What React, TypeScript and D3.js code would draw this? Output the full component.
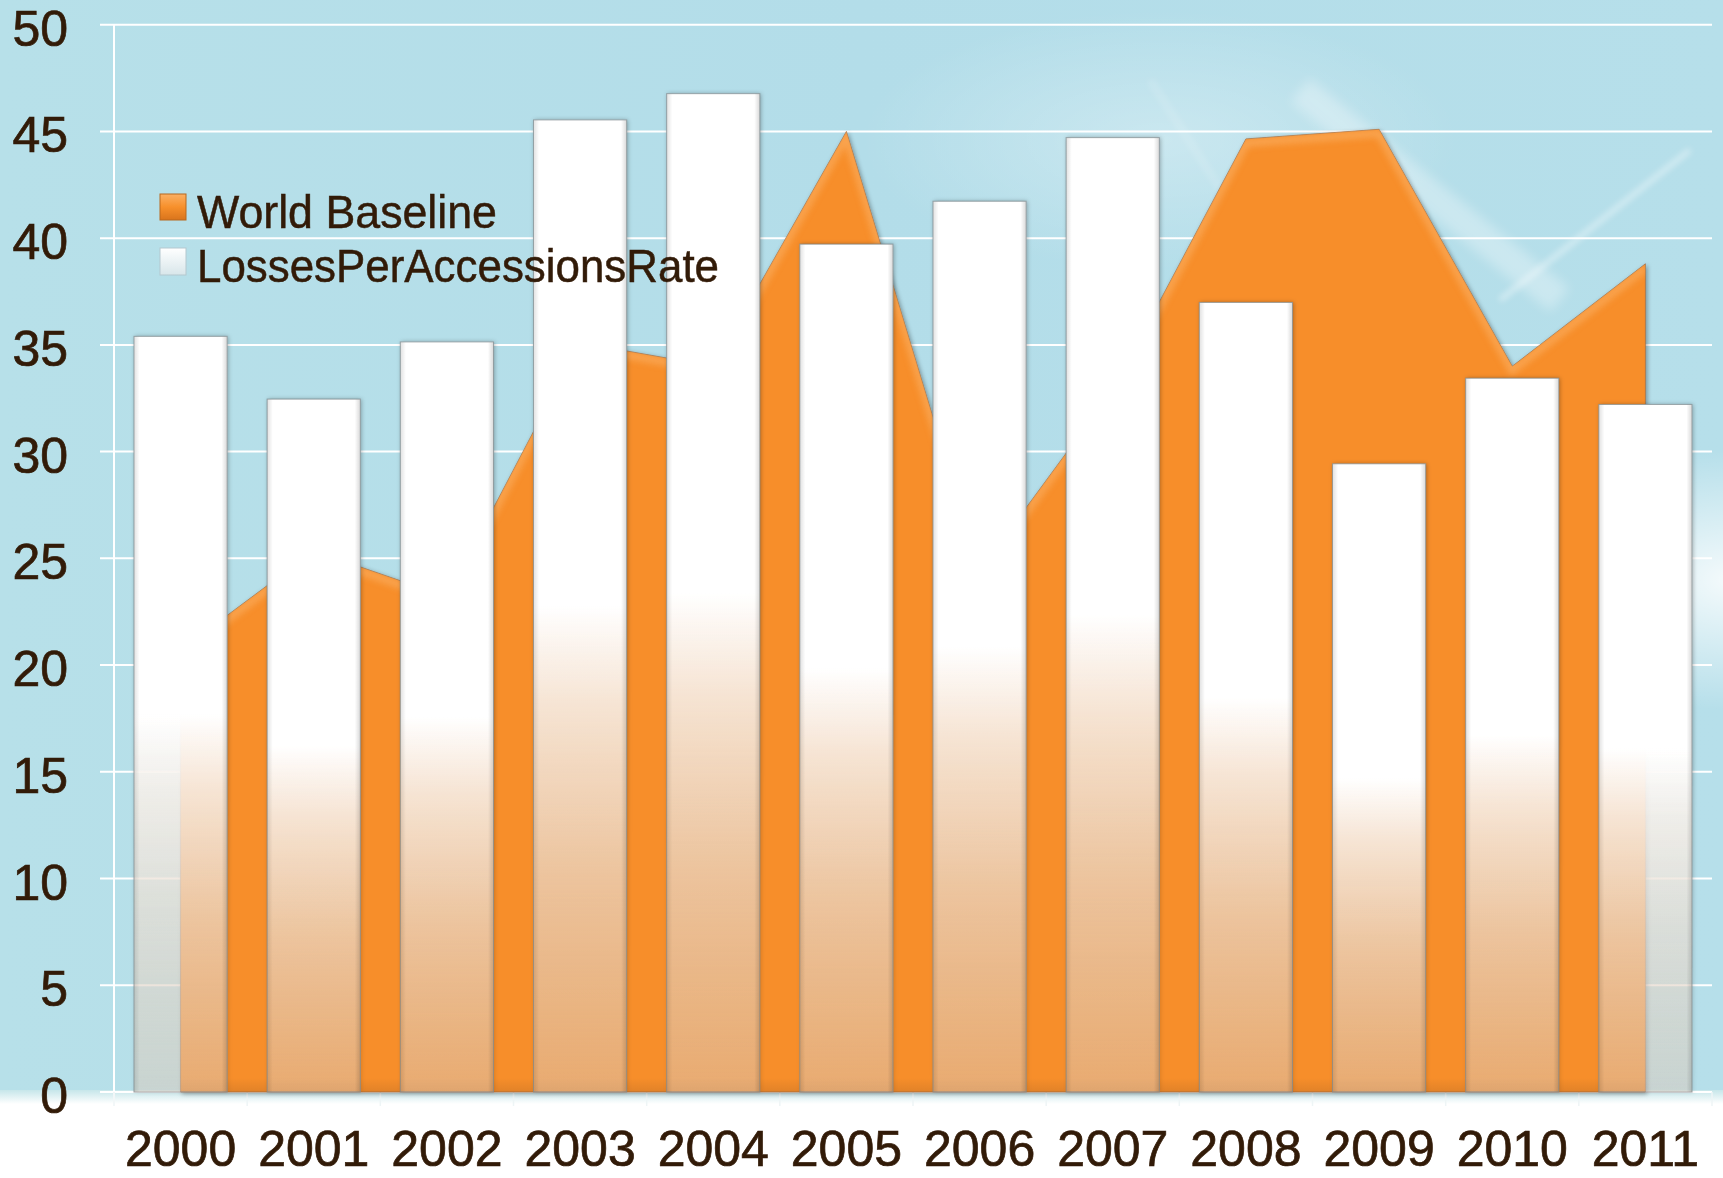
import React from 'react';
import * as d3 from 'd3';

const years = ['2000', '2001', '2002', '2003', '2004', '2005', '2006', '2007', '2008', '2009', '2010', '2011'];
const worldBaseline = [20.7, 25.35, 23.2, 35.1, 34.0, 45.0, 24.4, 32.9, 44.65, 45.1, 34.0, 38.8];
const lossesPerAccessionsRate = [35.4, 32.46, 35.14, 45.54, 46.77, 39.72, 41.73, 44.71, 36.99, 29.43, 33.44, 32.21];
const yTicks = [0, 5, 10, 15, 20, 25, 30, 35, 40, 45, 50];
const legendItems = ['World Baseline', 'LossesPerAccessionsRate'];

const W = 1723;
const H = 1178;
const plotLeft = 114;
const plotRight = 1712;
const plotTop = 24.7;
const plotBottom = 1092;
const textColor = '#321b08';
const font = '"Liberation Sans", Arial, sans-serif';

export default function App() {
  const x = d3.scaleBand<string>().domain(years).range([plotLeft, plotRight]).paddingInner(0.3).paddingOuter(0.15);
  const step = x.step();
  const center = (c: string) => (x(c) as number) + x.bandwidth() / 2;
  const y = d3.scaleLinear().domain([0, 50]).range([plotBottom, plotTop]);

  const area = d3
    .area<number>()
    .x((_, i) => center(years[i]))
    .y0(y(0))
    .y1((d) => y(d));
  const line = d3
    .line<number>()
    .x((_, i) => center(years[i]))
    .y((d) => y(d));

  const catEdges = years.map((_, i) => plotLeft + i * step).concat([plotRight]);

  return (
    <svg width={W} height={H} style={{ position: 'absolute', left: 0, top: 0 }} fontFamily={font}>
      <defs>
        <linearGradient id="bg" x1="0" y1="0" x2="1" y2="0">
          <stop offset="0" stopColor="#b7e0e9" />
          <stop offset="0.5" stopColor="#b3dde9" />
          <stop offset="1" stopColor="#b6dfea" />
        </linearGradient>
        <linearGradient id="bottomFade" x1="0" y1="0" x2="0" y2="1">
          <stop offset="0" stopColor="#c6e6ea" stopOpacity="1" />
          <stop offset="1" stopColor="#ffffff" stopOpacity="1" />
        </linearGradient>
        <radialGradient id="glowR" cx="0.5" cy="0.5" r="0.5">
          <stop offset="0" stopColor="#ffffff" stopOpacity="0.85" />
          <stop offset="1" stopColor="#ffffff" stopOpacity="0" />
        </radialGradient>
        <radialGradient id="glowT" cx="0.5" cy="0.5" r="0.5">
          <stop offset="0" stopColor="#ffffff" stopOpacity="0.3" />
          <stop offset="1" stopColor="#ffffff" stopOpacity="0" />
        </radialGradient>
        <linearGradient id="barGrad" x1="0" y1="0" x2="0" y2="1">
          <stop offset="0" stopColor="#ffffff" stopOpacity="1" />
          <stop offset="0.5" stopColor="#ffffff" stopOpacity="1" />
          <stop offset="0.6" stopColor="#fbf4ee" stopOpacity="0.85" />
          <stop offset="0.78" stopColor="#f3e6da" stopOpacity="0.62" />
          <stop offset="1" stopColor="#ead7c6" stopOpacity="0.42" />
        </linearGradient>
        <linearGradient id="barSide" x1="0" y1="0" x2="1" y2="0">
          <stop offset="0" stopColor="#000" stopOpacity="0.12" />
          <stop offset="0.06" stopColor="#000" stopOpacity="0" />
          <stop offset="0.94" stopColor="#000" stopOpacity="0" />
          <stop offset="1" stopColor="#000" stopOpacity="0.15" />
        </linearGradient>
        <linearGradient id="baseShade" x1="0" y1="0" x2="0" y2="1">
          <stop offset="0" stopColor="#7a4a20" stopOpacity="0" />
          <stop offset="1" stopColor="#7a4a20" stopOpacity="0.18" />
        </linearGradient>
        <linearGradient id="legOrange" x1="0" y1="0" x2="0" y2="1">
          <stop offset="0" stopColor="#fbb065" />
          <stop offset="0.5" stopColor="#f7902b" />
          <stop offset="1" stopColor="#d9741c" />
        </linearGradient>
        <linearGradient id="legWhite" x1="0" y1="0" x2="0" y2="1">
          <stop offset="0" stopColor="#ffffff" />
          <stop offset="1" stopColor="#d8e6ea" />
        </linearGradient>
        <filter id="shadow" x="-10%" y="-10%" width="120%" height="120%">
          <feDropShadow dx="1.5" dy="1.5" stdDeviation="2" floodColor="#000" floodOpacity="0.35" />
        </filter>
        <filter id="barShadow" x="-10%" y="-5%" width="120%" height="110%">
          <feDropShadow dx="1" dy="0" stdDeviation="2" floodColor="#000" floodOpacity="0.3" />
        </filter>
        <filter id="blur6">
          <feGaussianBlur stdDeviation="6" />
        </filter>
        <filter id="blur3">
          <feGaussianBlur stdDeviation="3" />
        </filter>
        <clipPath id="areaClip">
          <path d={area(worldBaseline) || ''} />
        </clipPath>
      </defs>

      {/* background */}
      <rect x={0} y={0} width={W} height={H} fill="#ffffff" />
      <rect x={0} y={0} width={W} height={1096} fill="url(#bg)" />
      <rect x={0} y={1090} width={W} height={14} fill="url(#bottomFade)" />
      <ellipse cx={1160} cy={140} rx={300} ry={130} fill="url(#glowT)" />
      <ellipse cx={1730} cy={580} rx={200} ry={130} fill="url(#glowR)" />
      <g filter="url(#blur3)" opacity={0.45}>
        <line x1={1500} y1={300} x2={1690} y2={150} stroke="#ffffff" strokeWidth={5} />
        <line x1={1150} y1={80} x2={1240} y2={220} stroke="#ffffff" strokeWidth={8} opacity={0.3} />
      </g>
      <g filter="url(#blur6)" opacity={0.3}>
        <line x1={1300} y1={90} x2={1560} y2={300} stroke="#ffffff" strokeWidth={30} />
      </g>

      {/* gridlines */}
      <g>
        {yTicks.map((t) => (
          <line key={t} x1={plotLeft - 14} x2={plotRight} y1={y(t)} y2={y(t)} stroke="#ffffff" strokeWidth={2} />
        ))}
        <line x1={plotLeft} x2={plotLeft} y1={plotTop} y2={plotBottom + 14} stroke="#ffffff" strokeWidth={2} />
        {catEdges.map((e, i) => (
          <line key={i} x1={e} x2={e} y1={plotBottom} y2={plotBottom + 14} stroke="#eef5f6" strokeWidth={1.5} />
        ))}
      </g>

      {/* area series */}
      <g filter="url(#shadow)">
        <path d={area(worldBaseline) || ''} fill="#f78e2a" stroke="#9a6a44" strokeWidth={1} strokeOpacity={0.7} />
      </g>
      <g clipPath="url(#areaClip)">
        <path d={line(worldBaseline) || ''} fill="none" stroke="#fbb268" strokeWidth={8} opacity={0.6} transform="translate(0,4)" filter="url(#blur3)" />
        <rect x={plotLeft} y={plotBottom - 14} width={plotRight - plotLeft} height={14} fill="url(#baseShade)" />
      </g>

      {/* bars */}
      <g>
        {lossesPerAccessionsRate.map((v, i) => {
          const bx = x(years[i]) as number;
          const bw = x.bandwidth();
          const by = y(v);
          const bh = y(0) - y(v);
          return (
            <g key={years[i]}>
              <rect x={bx} y={by} width={bw} height={bh} fill="url(#barGrad)" filter="url(#barShadow)" />
              <rect x={bx} y={by} width={bw} height={bh} fill="url(#barSide)" />
              <rect x={bx} y={by} width={bw} height={bh} fill="none" stroke="#7f8a8e" strokeOpacity={0.75} strokeWidth={1} />
            </g>
          );
        })}
      </g>

      {/* y axis labels */}
      <g fill={textColor} stroke={textColor} strokeWidth={0.7} fontSize={50} textAnchor="end">
        {yTicks.map((t) => (
          <text key={t} x={68} y={y(t) + 21}>
            {t}
          </text>
        ))}
      </g>

      {/* x axis labels */}
      <g fill={textColor} stroke={textColor} strokeWidth={0.7} fontSize={50} textAnchor="middle">
        {years.map((c) => (
          <text key={c} x={center(c)} y={1166}>
            {c}
          </text>
        ))}
      </g>

      {/* legend */}
      <g>
        <rect x={160} y={194} width={26} height={26} fill="url(#legOrange)" stroke="#b8691f" strokeWidth={1} />
        <rect x={160} y={248} width={26} height={27} fill="url(#legWhite)" stroke="#b4c8cf" strokeWidth={1} />
        <g fill={textColor} stroke={textColor} strokeWidth={0.5} fontSize={46}>
          <text x={197} y={228} textLength={300} lengthAdjust="spacingAndGlyphs">
            {legendItems[0]}
          </text>
          <text x={197} y={282} textLength={522} lengthAdjust="spacingAndGlyphs">
            {legendItems[1]}
          </text>
        </g>
      </g>
    </svg>
  );
}
